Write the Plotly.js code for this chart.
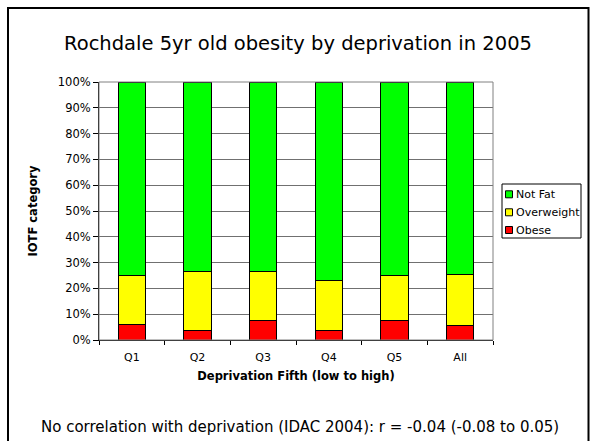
<!DOCTYPE html>
<html><head><meta charset="utf-8">
<script src="https://cdn.plot.ly/plotly-3.0.1.min.js"></script>
<style>body{margin:0;background:#fff}#c{width:590px;height:441px}</style>
</head><body><div id="c"></div>
<script>
var categories = ["Q1","Q2","Q3","Q4","Q5","All"];
var obese = [6.2, 3.5, 7.4, 3.5, 7.4, 5.8];
var overweight = [18.7, 22.9, 19.3, 19.4, 17.5, 19.5];
var notFat = [75.1, 73.6, 73.3, 77.1, 75.1, 74.7];
var seriesNames = ["Obese", "Overweight", "Not Fat"];
var seriesColors = ["#ff0000", "#ffff00", "#00ff00"];
var yTicks = [0,10,20,30,40,50,60,70,80,90,100];
var yTickLabels = yTicks.map(function(v){return v+"%";});

var font = "DejaVu Sans, Verdana, sans-serif";
var L = 99, R = 1, T = 82, B = 101, W = 590, H = 441;
var PW = W - L - R, PH = H - T - B;
function px(x){ return (x - L) / PW; }
function py(y){ return (H - B - y) / PH; }

var line = {color:"#000", width:1};
var seriesData = [obese, overweight, notFat];
var traces = seriesData.map(function(d, i){
  return {type:"bar", name:seriesNames[i], x:categories, y:d, showlegend:false,
          marker:{color:seriesColors[i], line:line}};
});

var shapes = [
  {type:"rect", xref:"paper", yref:"paper", x0:0, x1:px(493), y0:0, y1:1, line:{color:"#808080", width:1}},
  {type:"rect", xref:"paper", yref:"paper", x0:px(8), x1:px(588.5), y0:py(446), y1:py(8), line:{color:"#000", width:2}},
  {type:"rect", xref:"paper", yref:"paper", x0:px(502), x1:px(581), y0:py(238), y1:py(184), line:{color:"#000", width:1}, fillcolor:"#fff"}
];
var annotations = [
  {text:"No correlation with deprivation (IDAC 2004): r = -0.04 (-0.08 to 0.05)", xref:"paper", yref:"paper",
   x:px(300), y:py(427), xanchor:"center", yanchor:"middle", showarrow:false, font:{family:font, size:15, color:"#000"}}
];
// legend (top to bottom: Not Fat, Overweight, Obese)
var legendRows = [194.3, 212.3, 230];
for (var k = 0; k < 3; k++) {
  var idx = 2 - k, cy = legendRows[k];
  shapes.push({type:"rect", xref:"paper", yref:"paper", x0:px(505.5), x1:px(512.5), y0:py(cy+3.5), y1:py(cy-3.5),
               fillcolor:seriesColors[idx], line:{color:"#000", width:1}});
  annotations.push({text:seriesNames[idx], xref:"paper", yref:"paper", x:px(514), y:py(cy), xanchor:"left", yanchor:"middle",
                    showarrow:false, font:{family:font, size:11, color:"#000"}});
}

var layout = {
  width:W, height:H,
  margin:{l:L, r:R, t:T, b:B},
  paper_bgcolor:"#fff", plot_bgcolor:"#fff",
  barmode:"stack", bargap:0.58, showlegend:false,
  font:{family:font, size:11, color:"#000"},
  title:{text:"Rochdale 5yr old obesity by deprivation in 2005", font:{family:font, size:19.5, color:"#000"},
         x:298/W, xref:"container", xanchor:"center", y:1-43.5/H, yref:"container", yanchor:"middle"},
  xaxis:{
    domain:[0, px(493)],
    title:{text:"<b>Deprivation Fifth (low to high)</b>", font:{size:11.5}, standoff:8},
    tickson:"boundaries", ticks:"outside", ticklen:4, tickcolor:"#000", ticklabelstandoff:7,
    showline:true, linecolor:"#000", tickfont:{size:11}
  },
  yaxis:{
    title:{text:"<b>IOTF category</b>", font:{size:11.5}, standoff:17},
    range:[0,100], tickvals:yTicks, ticktext:yTickLabels,
    ticks:"outside", ticklen:5, tickcolor:"#000",
    showline:true, linecolor:"#000", showgrid:true, gridcolor:"#707070", gridwidth:1,
    tickfont:{size:11.5}, zeroline:false
  },
  shapes:shapes,
  annotations:annotations
};
Plotly.newPlot("c", traces, layout, {displayModeBar:false, staticPlot:true});
</script></body></html>
